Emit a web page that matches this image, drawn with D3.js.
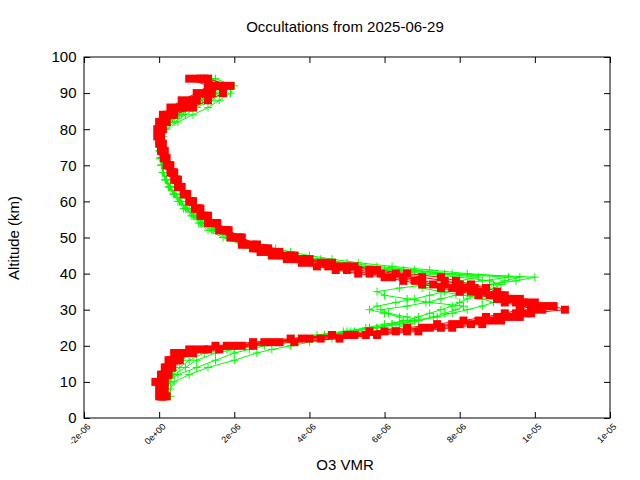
<!DOCTYPE html>
<html><head><meta charset="utf-8">
<script src="https://cdn.jsdelivr.net/npm/d3@7"></script>
<style>body{margin:0;background:#fff}text{font-family:"Liberation Sans",Arial,sans-serif}</style>
</head><body><svg id="c" width="640" height="480"></svg>
<script>
const title = "Occultations from 2025-06-29";
const xTicks = [-2e-6,0,2e-6,4e-6,6e-6,8e-6,1e-5,1.2e-5];
const xTickLabels = ["-2e-06","0e+00","2e-06","4e-06","6e-06","8e-06","1e-05","1e-05"];
const yTicks = [0,10,20,30,40,50,60,70,80,90,100];
// altitude (km)
const altA = [6,8,10,12,14,16,18,19,20,21,22,23,24,25,26,27,28,29,30,31,32,33,34,35,36,37,38,39,40,41,42,43,44,45,46,47,48,50,52,54,56,58,60,62,64,66,68,70,72,74,76,78,80,82,84,86,88,90,92,94];
// values in 1e-6 VMR
const red1 = [0.1,0.05,0.0,0.1,0.2,0.3,0.5,1.0,1.8,2.8,3.8,5.0,6.0,7.0,7.8,8.5,9.0,9.5,10.0,10.3,9.8,9.3,8.8,8.3,7.8,7.3,6.8,6.2,5.6,5.0,4.5,4.0,3.6,3.2,2.9,2.6,2.4,2.0,1.7,1.4,1.2,1.0,0.85,0.7,0.55,0.45,0.35,0.25,0.15,0.1,0.05,0.0,0.0,0.05,0.2,0.5,0.8,1.2,1.5,1.0];
const red2 = [0.2,0.15,0.1,0.2,0.3,0.4,0.7,1.3,2.2,3.2,4.3,5.5,6.6,7.5,8.3,8.9,9.4,9.8,10.8,10.5,10.0,9.6,9.1,8.6,8.1,7.6,7.0,6.5,5.9,5.3,4.8,4.3,3.8,3.4,3.0,2.7,2.5,2.1,1.8,1.5,1.3,1.1,0.9,0.75,0.6,0.5,0.4,0.3,0.2,0.15,0.1,0.05,0.1,0.2,0.4,0.9,1.3,1.7,1.9,1.3];
const red3 = [0.0,0.1,-0.1,0.05,0.15,0.25,0.4,0.8,1.5,2.5,3.5,4.6,5.6,6.6,7.4,8.1,8.7,9.2,9.6,9.9,9.5,9.0,8.5,8.0,7.5,7.0,6.5,6.0,5.3,4.7,4.2,3.8,3.4,3.0,2.7,2.5,2.2,1.9,1.6,1.3,1.1,0.95,0.8,0.65,0.5,0.4,0.3,0.2,0.12,0.05,0.0,-0.05,-0.05,0.0,0.1,0.3,0.6,1.0,1.3,0.8];
const red4 = [0.1,0.0,0.05,0.15,0.3,0.5,0.9,1.6,2.5,3.6,4.8,5.8,6.9,7.8,8.6,9.1,9.6,9.9,10.2,9.6,9.2,9.0,8.9,8.7,8.4,8.0,7.6,7.0,6.3,5.6,5.0,4.4,3.9,3.5,3.1,2.8,2.6,2.2,1.85,1.55,1.3,1.05,0.9,0.72,0.58,0.48,0.37,0.27,0.17,0.1,0.05,0.02,0.05,0.15,0.35,0.7,1.0,1.4,1.7,1.2];
const red5 = [0.05,0.1,0.15,0.25,0.35,0.55,0.8,1.2,2.0,3.0,4.0,5.2,6.3,7.2,8.0,8.7,9.2,9.6,9.9,10.1,9.7,9.4,9.2,9.0,8.7,8.3,7.9,7.5,6.6,5.8,5.2,4.6,4.0,3.6,3.2,2.9,2.6,2.15,1.8,1.5,1.25,1.05,0.88,0.72,0.57,0.46,0.36,0.26,0.16,0.08,0.03,0.0,0.02,0.1,0.3,0.6,0.9,1.3,1.6,1.1];
const green1 = [0.1,0.1,0.2,0.5,1.0,1.5,2.0,2.4,2.8,3.3,3.9,4.5,5.2,5.8,6.2,6.5,6.4,6.0,5.6,5.8,6.3,6.8,7.2,7.6,8.2,8.8,9.5,10.0,7.8,6.5,5.5,4.7,4.1,3.6,3.1,2.7,2.4,1.9,1.5,1.2,1.0,0.8,0.6,0.45,0.3,0.2,0.12,0.08,0.05,0.03,0.02,0.05,0.1,0.3,0.6,0.9,1.2,1.6,1.8,1.4];
const green2 = [0.2,0.2,0.3,0.4,0.7,1.0,1.5,2.0,2.6,3.2,3.8,4.4,5.0,5.5,6.0,6.6,6.9,7.2,7.5,7.8,8.0,8.2,8.4,8.7,8.9,9.1,8.8,8.0,7.0,6.0,5.2,4.5,3.9,3.4,2.9,2.6,2.3,1.8,1.4,1.1,0.9,0.7,0.55,0.4,0.28,0.18,0.1,0.07,0.04,0.02,0.05,0.1,0.2,0.5,0.9,1.3,1.6,1.9,2.0,1.5];
const green3 = [0.15,0.1,0.1,0.2,0.4,0.6,0.9,1.5,2.2,2.9,3.6,4.2,4.9,5.6,6.2,6.8,7.3,7.6,7.9,8.1,7.2,6.6,6.0,5.8,6.4,7.2,8.0,8.5,7.4,6.2,5.0,4.4,3.7,3.2,2.8,2.4,2.2,1.7,1.3,1.05,0.85,0.65,0.5,0.38,0.25,0.16,0.1,0.06,0.04,0.02,0.0,0.03,0.1,0.25,0.5,0.8,1.1,1.4,1.5,1.1];
const green4 = [0.3,0.3,0.4,0.8,1.3,2.0,2.6,3.0,3.5,4.0,4.6,5.2,5.8,6.3,6.7,6.9,6.6,6.1,5.9,6.6,7.1,7.5,7.9,8.3,8.6,8.9,9.2,9.6,8.2,7.2,6.2,5.3,4.6,4.0,3.5,3.1,2.7,2.0,1.55,1.2,0.95,0.75,0.57,0.42,0.29,0.19,0.11,0.07,0.04,0.02,0.03,0.08,0.18,0.4,0.7,1.0,1.4,1.7,1.9,1.3];
const green5 = [0.1,0.15,0.25,0.35,0.55,0.8,1.2,1.8,2.4,3.0,3.7,4.4,5.1,5.8,6.4,6.9,7.4,7.8,8.2,8.6,8.9,8.6,8.1,7.5,7.0,7.8,8.6,9.3,7.6,6.8,5.8,5.0,4.3,3.7,3.2,2.8,2.5,1.9,1.45,1.15,0.92,0.72,0.54,0.4,0.27,0.17,0.1,0.06,0.03,0.01,0.01,0.04,0.12,0.3,0.55,0.85,1.15,1.5,1.7,1.2];
const redSeries = [red1,red2,red3,red4,red5];
const greenSeries = [green1,green2,green3,green4,green5];

const svg = d3.select("#c");
const x = d3.scaleLinear().domain([-2e-6,1.2e-5]).range([84,610]);
const y = d3.scaleLinear().domain([0,100]).range([418,57]);
svg.append("rect").attr("x",84).attr("y",57).attr("width",526).attr("height",361).attr("fill","none").attr("stroke","#000");
const xa = svg.append("g").attr("transform","translate(0,418)").call(d3.axisBottom(x).tickValues(xTicks).tickFormat((d,i)=>xTickLabels[i]).tickSize(-6).tickSizeOuter(0));
xa.selectAll("text").attr("transform","rotate(-45)").attr("text-anchor","end").attr("dx","-0.2em").attr("dy","0.9em").attr("font-size",9).attr("fill","#000");
svg.append("g").attr("transform","translate(0,57)").call(d3.axisTop(x).tickValues(xTicks).tickFormat("").tickSize(-6));
svg.append("g").attr("transform","translate(84,0)").call(d3.axisLeft(y).tickValues(yTicks).tickSize(-6).tickSizeOuter(0)).selectAll("text").attr("font-size",15).attr("dx","-0.3em").attr("fill","#000");
svg.append("g").attr("transform","translate(610,0)").call(d3.axisRight(y).tickValues(yTicks).tickSize(-6).tickFormat(""));
svg.selectAll(".domain").remove();
svg.selectAll(".tick line").attr("stroke","#000");
const line = d3.line().x(d=>x(d[0]*1e-6)).y(d=>y(d[1]));
function draw(series,color,isRed){
  series.forEach(s=>{
    const pts = s.map((v,i)=>[v,altA[i]]);
    svg.append("path").datum(pts).attr("d",line).attr("fill","none").attr("stroke",color).attr("stroke-width",1);
    const g = svg.append("g");
    pts.forEach(p=>{
      const cx=x(p[0]*1e-6), cy=y(p[1]);
      if(isRed) g.append("rect").attr("x",cx-4).attr("y",cy-4).attr("width",8).attr("height",8).attr("fill",color);
      else g.append("path").attr("d",`M${cx-4},${cy}H${cx+4}M${cx},${cy-4}V${cy+4}`).attr("stroke",color).attr("stroke-width",1);
    });
  });
}
draw(greenSeries,"#00ff00",false);
draw(redSeries,"#ff0000",true);
svg.append("text").attr("x",345).attr("y",32).attr("text-anchor","middle").attr("font-size",15).text(title);
svg.append("text").attr("x",345).attr("y",470).attr("text-anchor","middle").attr("font-size",15).text("O3 VMR");
svg.append("text").attr("transform","translate(19,238) rotate(-90)").attr("text-anchor","middle").attr("font-size",15).text("Altitude (km)");
</script></body></html>
